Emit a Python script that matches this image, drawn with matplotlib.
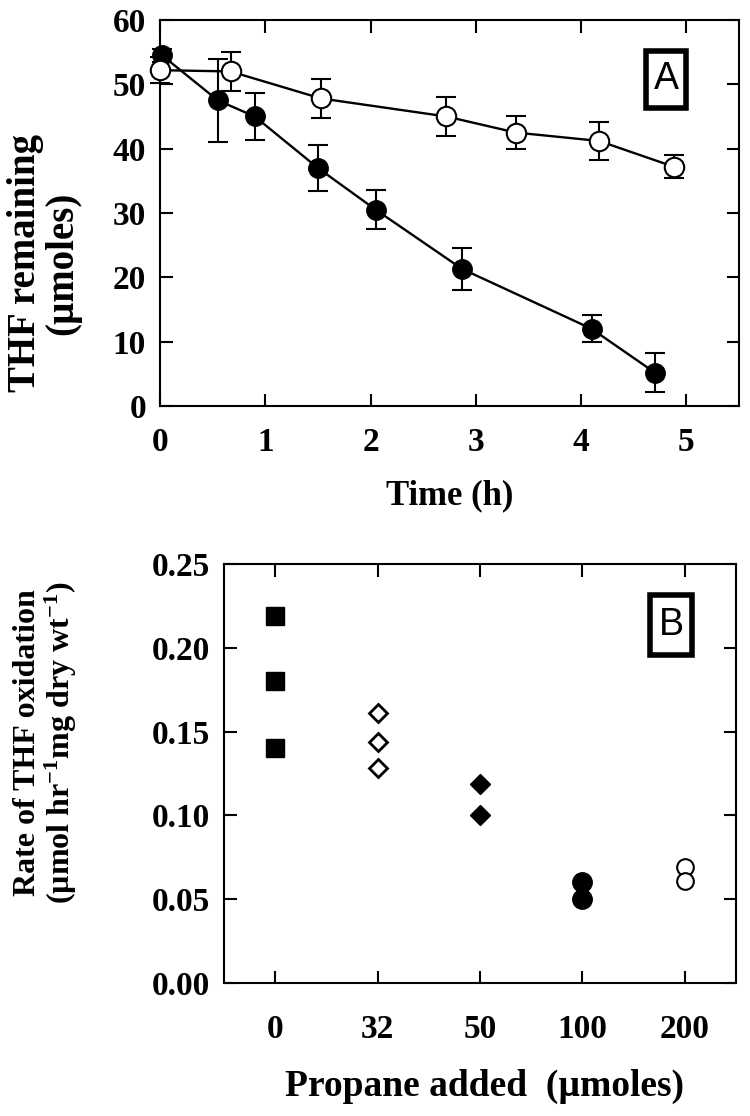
import numpy as np
import matplotlib
matplotlib.use('Agg')
import matplotlib.pyplot as plt
from matplotlib.patches import Rectangle

plt.rcParams['font.family'] = ['Liberation Serif', 'DejaVu Serif']
plt.rcParams['font.weight'] = 'bold'
plt.rcParams['mathtext.fontset'] = 'custom'
plt.rcParams['mathtext.bf'] = 'Liberation Serif:bold'
plt.rcParams['mathtext.rm'] = 'Liberation Serif:bold'
plt.rcParams['mathtext.default'] = 'bf'

# Panel A: THF remaining vs time
t_filled = [0.02, 0.55, 0.9, 1.5, 2.05, 2.87, 4.1, 4.7]
thf_filled = [54.5, 47.5, 45.0, 37.0, 30.5, 21.3, 12.0, 5.2]
err_filled = [1.0, 6.5, 3.7, 3.6, 3.0, 3.3, 2.1, 3.0]

t_open = [0.0, 0.67, 1.53, 2.72, 3.38, 4.17, 4.88]
thf_open = [52.2, 52.0, 47.8, 45.0, 42.5, 41.2, 37.2]
err_open = [2.0, 3.0, 3.0, 3.1, 2.6, 2.9, 1.8]

# Panel B: rate of THF oxidation vs propane added
propane_labels = ['0', '32', '50', '100', '200']
rate_0 = [0.219, 0.180, 0.140]
rate_32 = [0.161, 0.144, 0.128]
rate_50 = [0.119, 0.100]
rate_100 = [0.060, 0.050]
rate_200 = [0.069, 0.061]

fig = plt.figure(figsize=(7.5, 11.16), dpi=100)

# ---------- panel A ----------
ax1 = fig.add_axes([0.2133, 0.6362, 0.772, 0.3459])
ax1.errorbar(t_filled, thf_filled, yerr=err_filled, fmt='-o', color='black',
             mfc='black', mec='black', ms=14, lw=1.7, elinewidth=1.5,
             capsize=7, capthick=1.5, clip_on=False, zorder=3)
ax1.errorbar(t_open, thf_open, yerr=err_open, fmt='-o', color='black',
             mfc='white', mec='black', ms=14, mew=1.5, lw=1.7, elinewidth=1.5,
             capsize=7, capthick=1.5, clip_on=False, zorder=4)
ax1.set_xlim(0, 5.5)
ax1.set_ylim(0, 60)
ax1.set_xticks(range(0, 6))
ax1.set_yticks(range(0, 70, 10))
ax1.set_xlabel('Time (h)', fontsize=25, fontweight='bold')
ax1.set_ylabel('THF remaining\n(µmoles)', fontsize=28, fontweight='bold',
               linespacing=1.0)
ax1.xaxis.set_label_coords(0.50, -0.19)
ax1.yaxis.set_label_coords(-0.20, 0.37)
ax1.yaxis.label.set_va('center')
ax1.xaxis.label.set_va('top')
ax1.tick_params(axis='x', pad=15)
ax1.add_patch(Rectangle((0.839, 0.772), 0.070, 0.148, transform=ax1.transAxes,
                        fill=False, lw=4, ec='black', zorder=5))
ax1.text(0.874, 0.846, 'A', transform=ax1.transAxes, ha='center', va='center',
         fontsize=27, fontweight='normal', family='Liberation Sans')

# ---------- panel B ----------
ax2 = fig.add_axes([0.2987, 0.1192, 0.6827, 0.3754])
ax2.plot([0] * len(rate_0), rate_0, 's', color='black', ms=13, clip_on=False)
ax2.plot([1] * len(rate_32), rate_32, 'D', mfc='white', mec='black', ms=9,
         mew=2, clip_on=False)
ax2.plot([2] * len(rate_50), rate_50, 'D', color='black', ms=10, clip_on=False)
ax2.plot([3] * len(rate_100), rate_100, 'o', color='black', ms=14, clip_on=False)
ax2.plot([4] * len(rate_200), rate_200, 'o', mfc='white', mec='black', ms=12,
         mew=1.5, clip_on=False)
ax2.set_xlim(-0.5, 4.5)
ax2.set_ylim(0, 0.25)
ax2.set_xticks(range(len(propane_labels)))
ax2.set_xticklabels(propane_labels)
ax2.set_yticks(np.arange(0, 0.26, 0.05))
ax2.set_yticklabels(['0.00', '0.05', '0.10', '0.15', '0.20', '0.25'])
ax2.set_xlabel('Propane added  (µmoles)', fontsize=27, fontweight='bold')
ax2.set_ylabel('Rate of THF oxidation\n(µmol hr$^{-1}$mg dry wt$^{-1}$)',
               fontsize=23, fontweight='bold', linespacing=1.05)
ax2.xaxis.set_label_coords(0.508, -0.205)
ax2.yaxis.set_label_coords(-0.348, 0.573)
ax2.yaxis.label.set_va('center')
ax2.xaxis.label.set_va('top')
ax2.tick_params(axis='x', pad=22)
ax2.add_patch(Rectangle((0.832, 0.783), 0.082, 0.143, transform=ax2.transAxes,
                        fill=False, lw=4, ec='black', zorder=5))
ax2.text(0.873, 0.854, 'B', transform=ax2.transAxes, ha='center', va='center',
         fontsize=27, fontweight='normal', family='Liberation Sans')

for ax in (ax1, ax2):
    for s in ax.spines.values():
        s.set_linewidth(1.5)
    ax.tick_params(direction='in', length=9, width=1.5, top=True, right=True,
                   labelsize=24)
    ax.tick_params(axis='y', pad=10)
    for lab in ax.get_xticklabels() + ax.get_yticklabels():
        lab.set_fontweight('bold')

fig.savefig('out.png', dpi=100)
